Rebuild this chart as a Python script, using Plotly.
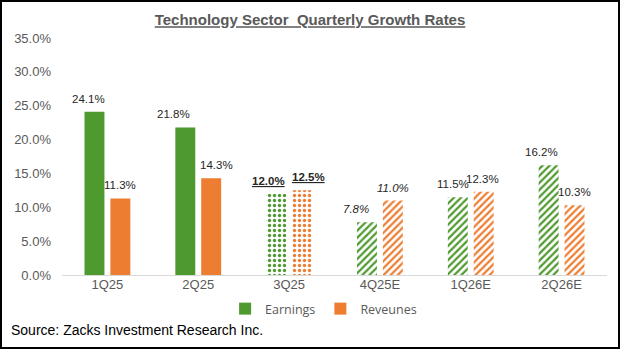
import plotly.graph_objects as go

# Quarterly growth rates (%) for the Technology sector
quarters = ["1Q25", "2Q25", "3Q25", "4Q25E", "1Q26E", "2Q26E"]
earnings = [24.1, 21.8, 12.0, 7.8, 11.5, 16.2]
revenues = [11.3, 14.3, 12.5, 11.0, 12.3, 10.3]

# Fill style per quarter: solid = reported, dots = current, hatch = estimate
fill_shapes = ["", "", ".", "/", "/", "/"]
fill_sizes = [6, 6, 5, 5, 5, 5]
fill_solidity = [0.4, 0.4, 0.35, 0.45, 0.45, 0.45]
# Label styling per quarter
label_fmt = ["{}", "{}", "<b><u>{}</u></b>", "<i>{}</i>", "{}", "{}"]
# Horizontal nudge (px) of each value label from its bar centre
earn_label_dx = [-6, -12, -8, -11, -5, -7]
rev_label_dx = [0, 5, 6, 0, -1, 0]

GREEN = "#4F9A2F"
ORANGE = "#ED7D31"
GRAY = "#595959"

W, H = 620, 349
ML, MR, MT, MB = 62, 13, 38, 74
BARGAP, GROUPGAP = 0.43, 0.23

pw = W - ML - MR
ph = H - MT - MB
# half of one bar slot within a group, in px
slot_half = (1 - BARGAP) * pw / len(quarters) / 4


def bar(name, vals, color):
    return go.Bar(
        name=name,
        x=quarters,
        y=vals,
        marker=dict(
            color=color,
            line=dict(width=0),
            pattern=dict(
                shape=fill_shapes,
                fgcolor=color,
                bgcolor="white",
                size=fill_sizes,
                solidity=fill_solidity,
                fillmode="replace",
            ),
        ),
        hovertemplate="%{x}: %{y:.1f}%<extra>" + name + "</extra>",
    )


def value_labels(vals, side, dxs):
    out = []
    for q, v, f, dx in zip(quarters, vals, label_fmt, dxs):
        out.append(dict(
            x=q,
            y=v,
            xref="x",
            yref="y",
            text=f.format(f"{v:.1f}%"),
            showarrow=False,
            xanchor="center",
            yanchor="middle",
            xshift=side * slot_half + dx,
            yshift=13,
            font=dict(family="Liberation Sans, Arial", size=11.5, color="#262626"),
        ))
    return out


fig = go.Figure([
    bar("Earnings", earnings, GREEN),
    bar("Reveunes", revenues, ORANGE),
])

annotations = value_labels(earnings, -1, earn_label_dx) + value_labels(revenues, 1, rev_label_dx)
annotations.append(dict(
    text="Source: Zacks Investment Research Inc.",
    xref="paper",
    yref="paper",
    x=-(ML - 9) / pw,
    xanchor="left",
    y=-(330 - (H - MB)) / ph,
    yanchor="middle",
    showarrow=False,
    font=dict(family="Liberation Sans, Arial", size=14, color="black"),
))

fig.update_layout(
    width=W,
    height=H,
    margin=dict(l=ML, r=MR, t=MT, b=MB, pad=0),
    paper_bgcolor="white",
    plot_bgcolor="white",
    barmode="group",
    bargap=BARGAP,
    bargroupgap=GROUPGAP,
    title=dict(
        text="<b><u>Technology Sector  Quarterly Growth Rates</u></b>",
        x=0.5,
        xanchor="center",
        y=1 - 20 / H,
        yanchor="middle",
        font=dict(family="Liberation Sans, Arial", size=15, color=GRAY),
    ),
    legend=dict(
        orientation="h",
        x=0.48,
        xanchor="center",
        y=-(309 - (H - MB)) / ph,
        yanchor="middle",
        font=dict(family="Open Sans", size=12.5, color=GRAY),
        itemwidth=30,
        traceorder="normal",
    ),
    xaxis=dict(
        showline=False,
        showgrid=False,
        ticks="",
        tickfont=dict(family="Liberation Sans, Arial", size=13, color=GRAY),
    ),
    yaxis=dict(
        range=[0, 35],
        tickvals=[0, 5, 10, 15, 20, 25, 30, 35],
        ticktext=[f"{v:.1f}%" for v in [0, 5, 10, 15, 20, 25, 30, 35]],
        showgrid=False,
        zeroline=True,
        zerolinecolor="#D9D9D9",
        zerolinewidth=1,
        ticks="",
        tickfont=dict(family="Liberation Sans, Arial", size=13, color=GRAY),
        ticklabelstandoff=10,
    ),
    annotations=annotations,
    shapes=[
        dict(
            type="rect",
            xref="paper",
            yref="paper",
            x0=-(ML - 1) / pw,
            x1=1 + (MR - 1) / pw,
            y0=-(MB - 1) / ph,
            y1=1 + (MT - 1) / ph,
            line=dict(color="black", width=2),
            layer="above",
        )
    ],
)

fig.write_html("out.html")
